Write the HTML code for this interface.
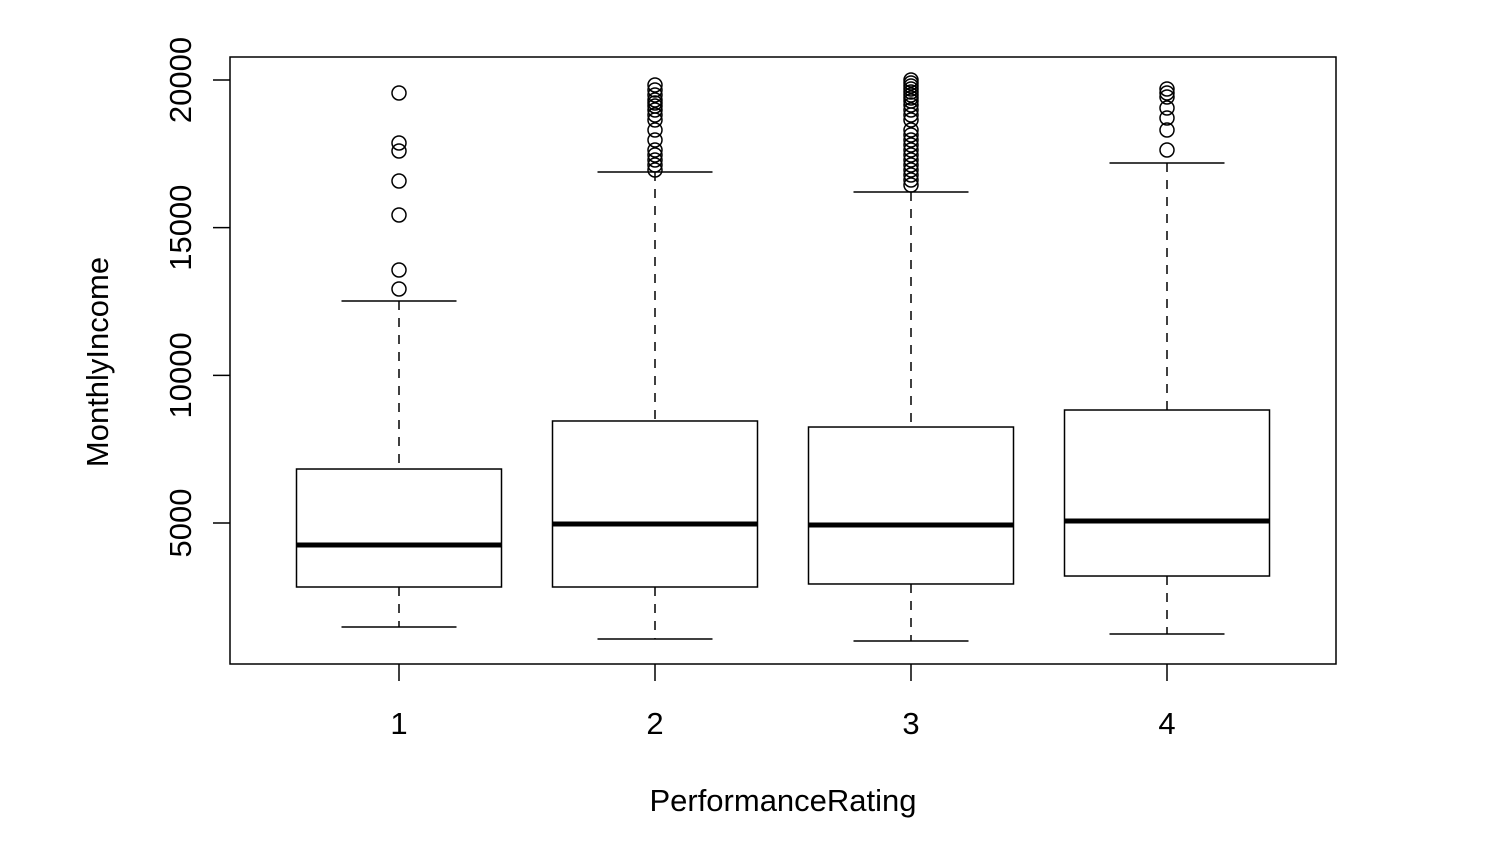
<!DOCTYPE html>
<html><head><meta charset="utf-8"><style>
html,body{margin:0;padding:0;background:#fff;}
svg{display:block;font-family:"Liberation Sans",Arial,sans-serif;}
</style></head><body>
<svg id="chart" width="1490" height="866" xmlns="http://www.w3.org/2000/svg">
<rect x="230" y="57" width="1106" height="607" fill="none" stroke="#000" stroke-width="1.5"/>
<g id="yaxis"></g>
<g id="xaxis"></g>
<g id="boxes"></g>
<text x="783" y="811" font-size="31" text-anchor="middle">PerformanceRating</text>
<text transform="translate(108,362) rotate(-90)" font-size="31" text-anchor="middle">MonthlyIncome</text>
</svg>
<script>
const categories = ["1","2","3","4"];
const lowerWhisker = [1479, 1072, 1004, 1242];
const q1 = [2833, 2833, 2935, 3205];
const median = [4255, 4966, 4932, 5068];
const q3 = [6828, 8454, 8250, 8826];
const upperWhisker = [12517, 16885, 16208, 17190];
const outliers1 = [19560, 17867, 17596, 16580, 15429, 13567, 12923];
const outliers2 = [19831, 19662, 19493, 19323, 19222, 19120, 18985, 18816, 18646, 18308, 17969, 17630, 17461, 17291, 17122, 16953];
const outliers3 = [20000, 19898, 19797, 19695, 19594, 19492, 19391, 19290, 19154, 18985, 18816, 18647, 18308, 18139, 17969, 17800, 17630, 17461, 17292, 17122, 16953, 16783, 16614, 16444];
const outliers4 = [19696, 19560, 19425, 19052, 18714, 18308, 17630];
const yTicks = [5000, 10000, 15000, 20000];

const NS = "http://www.w3.org/2000/svg";
function y(v){ return 523 - (v - 5000) * (443 / 15000); }
function x(i){ return 399 + i * 256; }
function mk(tag, attrs, parent){ const e = document.createElementNS(NS, tag); for (const k in attrs) e.setAttribute(k, attrs[k]); parent.appendChild(e); return e; }

const ya = document.getElementById('yaxis');
yTicks.forEach(t => {
  const l = mk('line', {x1:230, x2:213, y1:y(t), y2:y(t), stroke:'#000', 'stroke-width':1.5}, ya);
  
  
  const tx = mk('text', {transform:`translate(191,${y(t)}) rotate(-90)`, 'font-size':31, 'text-anchor':'middle'}, ya);
  tx.textContent = t;
  
  
});
const xa = document.getElementById('xaxis');
categories.forEach((c, i) => {
  const l = mk('line', {x1:x(i), x2:x(i), y1:664, y2:681, stroke:'#000', 'stroke-width':1.5}, xa);
  
  
  const tx = mk('text', {x:x(i), y:734, 'font-size':31, 'text-anchor':'middle'}, xa);
  tx.textContent = c;
  
  
});
const outs = [outliers1, outliers2, outliers3, outliers4];
const bx = document.getElementById('boxes');
categories.forEach((c, i) => {
  const g = mk('g', {}, bx);
  
  
  const cx = x(i), hw = 102.5, cw = 57.5;
  mk('line', {x1:cx, x2:cx, y1:y(upperWhisker[i]), y2:y(q3[i]), stroke:'#000', 'stroke-width':1.5, 'stroke-dasharray':'9,8'}, g);
  mk('line', {x1:cx, x2:cx, y1:y(q1[i]), y2:y(lowerWhisker[i]), stroke:'#000', 'stroke-width':1.5, 'stroke-dasharray':'9,8'}, g);
  mk('line', {x1:cx-cw, x2:cx+cw, y1:y(upperWhisker[i]), y2:y(upperWhisker[i]), stroke:'#000', 'stroke-width':1.5}, g);
  mk('line', {x1:cx-cw, x2:cx+cw, y1:y(lowerWhisker[i]), y2:y(lowerWhisker[i]), stroke:'#000', 'stroke-width':1.5}, g);
  mk('rect', {x:cx-hw, y:y(q3[i]), width:2*hw, height:y(q1[i])-y(q3[i]), fill:'#fff', stroke:'#000', 'stroke-width':1.5}, g);
  mk('line', {x1:cx-hw, x2:cx+hw, y1:y(median[i]), y2:y(median[i]), stroke:'#000', 'stroke-width':5}, g);
  outs[i].forEach(v => {
    const p = mk('circle', {cx:cx, cy:y(v), r:7, fill:'none', stroke:'#000', 'stroke-width':1.5}, g);
    
    
  });
});
</script>
</body></html>
